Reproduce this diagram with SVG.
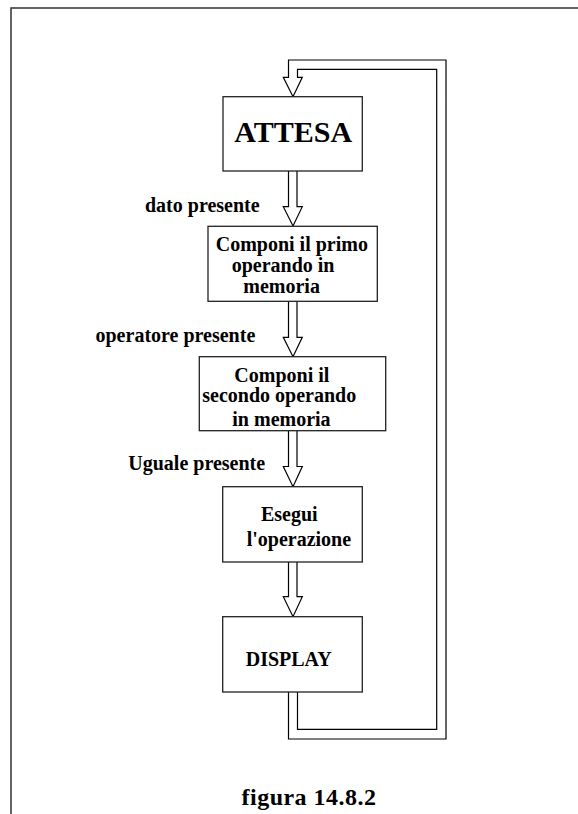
<svg xmlns="http://www.w3.org/2000/svg" width="578" height="814" viewBox="0 0 578 814">
  <style>
    .frame { fill: none; stroke: #333; stroke-width: 1.5; }
    .box { fill: #fff; stroke: #222; stroke-width: 1.3; }
    .flow { fill: #fff; stroke: #000; stroke-width: 1.2; stroke-linejoin: miter; }
    .loop { fill: none; stroke: #000; stroke-width: 1.2; }
    text { font-family: "Liberation Serif", "Times New Roman", serif; font-weight: bold; fill: #000; }
    .lbl { font-size: 20px; }
  </style>
  <rect width="578" height="814" fill="#fff"/>

  <!-- page frame -->
  <path class="frame" d="M11,814 V8 H578"/>

  <!-- connectors: hollow block arrows -->
  <g id="connectors">
    <!-- return loop from DISPLAY back to ATTESA -->
    <path class="flow" d="M288.5,692 V739 H446 V60 H288.5 V77.3 H283.3 L293,96.7 L302.3,77.3 H297.5 V69.3 H436.7 V729.3 H297.5 V692"/>
    <!-- ATTESA -> primo operando -->
    <path class="flow" d="M288.5,171 V206.7 H283.3 L293,226 L302.3,206.7 H297 V171"/>
    <!-- primo -> secondo operando -->
    <path class="flow" d="M288.5,301.3 V337.3 H283.3 L293,356.7 L302.3,337.3 H297 V301.3"/>
    <!-- secondo -> esegui -->
    <path class="flow" d="M288.5,430.7 V466.5 H283.3 L293,486.7 L302.3,466.5 H297 V430.7"/>
    <!-- esegui -> display -->
    <path class="flow" d="M288.5,562 V596.7 H283.3 L293,616.7 L302.3,596.7 H297 V562"/>
  </g>

  <!-- transition labels -->
  <text class="lbl" x="145" y="211.7">dato presente</text>
  <text class="lbl" x="95.5" y="341.7">operatore presente</text>
  <text class="lbl" x="128.3" y="470">Uguale presente</text>

  <g id="attesa">
    <rect class="box" x="223" y="96.7" width="139.3" height="74.3"/>
    <text x="234.3" y="141.7" font-size="30">ATTESA</text>
  </g>

  <g id="primo-operando">
    <rect class="box" x="208" y="226.3" width="169.3" height="75"/>
    <text class="lbl" x="215.7" y="251">Componi il primo</text>
    <text class="lbl" x="231.7" y="271.7">operando in</text>
    <text class="lbl" x="243.3" y="292.7">memoria</text>
  </g>

  <g id="secondo-operando">
    <rect class="box" x="199.3" y="356.7" width="186.4" height="74"/>
    <text class="lbl" x="234.3" y="381.7">Componi il</text>
    <text class="lbl" x="202.3" y="402.3">secondo operando</text>
    <text class="lbl" x="232.3" y="426">in memoria</text>
  </g>

  <g id="esegui">
    <rect class="box" x="222.7" y="486.7" width="139.6" height="75.3"/>
    <text class="lbl" x="261" y="521">Esegui</text>
    <text class="lbl" x="246.7" y="546">l'operazione</text>
  </g>

  <g id="display">
    <rect class="box" x="222.7" y="616.7" width="139.6" height="75.3"/>
    <text class="lbl" x="245.7" y="665.7">DISPLAY</text>
  </g>

  <!-- caption -->
  <text x="241.5" y="805" font-size="24" textLength="134.5">figura 14.8.2</text>
</svg>
